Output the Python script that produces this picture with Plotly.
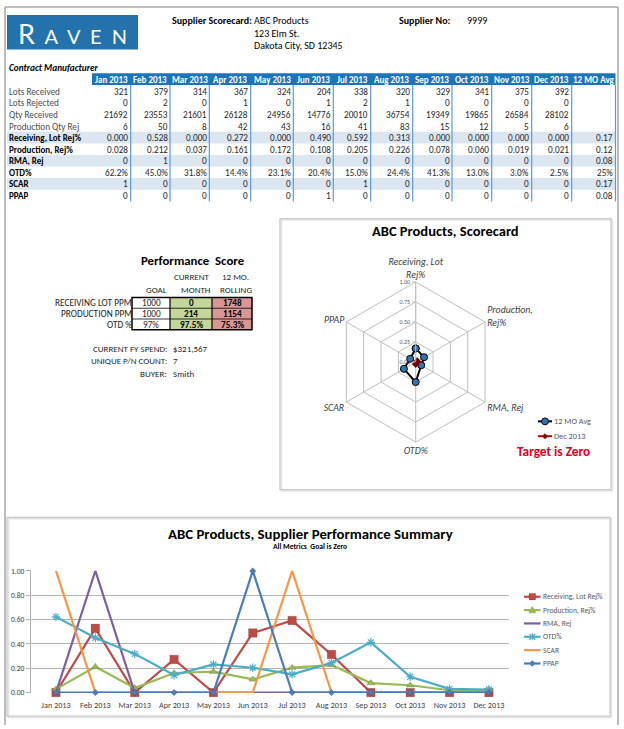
import plotly.graph_objects as go

# ---------------- data ----------------
months = ["Jan 2013", "Feb 2013", "Mar 2013", "Apr 2013", "May 2013", "Jun 2013",
          "Jul 2013", "Aug 2013", "Sep 2013", "Oct 2013", "Nov 2013", "Dec 2013"]
avg_header = "12 MO Avg"

lots_received = [321, 379, 314, 367, 324, 204, 338, 320, 329, 341, 375, 392]
lots_rejected = [0, 2, 0, 1, 0, 1, 2, 1, 0, 0, 0, 0]
qty_received = [21692, 23553, 21601, 26128, 24956, 14776, 20010, 36754, 19349, 19865, 26584, 28102]
production_qty_rej = [6, 50, 8, 42, 43, 16, 41, 83, 15, 12, 5, 6]
receiving_lot_rej = [0.000, 0.528, 0.000, 0.272, 0.000, 0.490, 0.592, 0.313, 0.000, 0.000, 0.000, 0.000]
production_rej = [0.028, 0.212, 0.037, 0.161, 0.172, 0.108, 0.205, 0.226, 0.078, 0.060, 0.019, 0.021]
rma_rej = [0, 1, 0, 0, 0, 0, 0, 0, 0, 0, 0, 0]
otd_pct = [62.2, 45.0, 31.8, 14.4, 23.1, 20.4, 15.0, 24.4, 41.3, 13.0, 3.0, 2.5]
scar = [1, 0, 0, 0, 0, 0, 1, 0, 0, 0, 0, 0]
ppap = [0, 0, 0, 0, 0, 1, 0, 0, 0, 0, 0, 0]

metric_names = ["Receiving, Lot Rej%", "Production, Rej%", "RMA, Rej", "OTD%", "SCAR", "PPAP"]
avg_12mo = [0.17, 0.12, 0.08, 0.25, 0.17, 0.08]
dec_2013 = [0.000, 0.021, 0, 0.025, 0, 0]
radar_labels = ["Receiving, Lot<br>Rej%", "Production,<br>Rej%", "RMA, Rej", "OTD%", "SCAR", "PPAP"]
radar_ticks = [0, 0.25, 0.5, 0.75, 1.0]
line_ticks = [0, 0.2, 0.4, 0.6, 0.8, 1.0]

perf_rows = ["RECEIVING LOT PPM", "PRODUCTION PPM", "OTD %"]
perf_goal = ["1000", "1000", "97%"]
perf_current = ["0", "214", "97.5%"]
perf_rolling = ["1748", "1154", "75.3%"]

info_labels = ["CURRENT FY SPEND:", "UNIQUE P/N COUNT:", "BUYER:"]
info_values = ["$321,567", "7", "Smith"]

supplier_name = "ABC Products"
supplier_addr = ["123 Elm St.", "Dakota City, SD 12345"]
supplier_no = "9999"

# ---------------- helpers ----------------
W, H = 624, 729
FONT = "Carlito, Calibri, Lato, sans-serif"


def X(px):
    return px / W


def Y(py):
    return 1 - py / H


annotations = []
shapes = []


def txt(x, y, s, size=8, color="#262626", xanchor="left", yanchor="middle", family=FONT):
    annotations.append(dict(x=X(x), y=Y(y), xref="paper", yref="paper", text=s,
                            showarrow=False, xanchor=xanchor, yanchor=yanchor,
                            borderpad=0,
                            font=dict(family=family, size=size, color=color)))


def rect(x0, y0, x1, y1, fill=None, line=None, width=1):
    d = dict(type="rect", xref="paper", yref="paper", x0=X(x0), x1=X(x1), y0=Y(y1), y1=Y(y0),
             line=dict(width=width if line else 0, color=line or "rgba(0,0,0,0)"))
    if fill:
        d["fillcolor"] = fill
    shapes.append(d)


def seg(x0, y0, x1, y1, color, width=1):
    shapes.append(dict(type="line", xref="paper", yref="paper", x0=X(x0), x1=X(x1),
                       y0=Y(y0), y1=Y(y1), line=dict(color=color, width=width)))


def poly(points, fill, line=None, width=0.8):
    p = "M " + " L ".join(f"{X(a):.5f},{Y(b):.5f}" for a, b in points) + " Z"
    shapes.append(dict(type="path", xref="paper", yref="paper", path=p, fillcolor=fill,
                       line=dict(color=line or fill, width=width)))


# ---------------- page frame + header ----------------
seg(5, 3, 618, 3, "#A6A6A6", 1.5)
seg(5, 3, 5, 729, "#A6A6A6", 1.5)
seg(618, 3, 618, 729, "#A6A6A6", 1.5)

rect(7, 11, 138, 46, fill="#2372AB")
txt(17, 30, "R<span style='font-size:20px'>&nbsp;&nbsp;A&nbsp;&nbsp;V&nbsp;&nbsp;E&nbsp;&nbsp;N</span>",
    size=27, color="white", family="Lato, sans-serif")

txt(171, 17, "<b>Supplier Scorecard:</b>", size=10, color="#000000")
txt(253, 17, supplier_name, size=10, color="#000000")
for i, line in enumerate(supplier_addr):
    txt(253, 29.5 + 12.5 * i, line, size=10, color="#000000")
txt(398, 17, "<b>Supplier No:</b>", size=10, color="#000000")
txt(466, 17, supplier_no, size=10, color="#000000")

# ---------------- top table ----------------
txt(8, 64, "<b><i>Contract Manufacturer</i></b>", size=9.3, color="#000000")
col_bounds = [92, 130.7, 170, 209.3, 250.7, 293.3, 333.3, 370.7, 412.7, 452, 491.7, 531.7, 571.7, 615.5]
header_top, header_bot = 70, 82
row0, row_h = 88.3, 11.7

avg_text = ["", "", "", ""] + [f"{v:.2f}" for v in avg_12mo[:3]] + [f"{avg_12mo[3]*100:.0f}%"] + \
           [f"{v:.2f}" for v in avg_12mo[4:]]
table_rows = [
    ("Lots Received", [f"{v:d}" for v in lots_received]),
    ("Lots Rejected", [f"{v:d}" for v in lots_rejected]),
    ("Qty Received", [f"{v:d}" for v in qty_received]),
    ("Production Qty Rej", [f"{v:d}" for v in production_qty_rej]),
    (metric_names[0], [f"{v:.3f}" for v in receiving_lot_rej]),
    (metric_names[1], [f"{v:.3f}" for v in production_rej]),
    (metric_names[2], [f"{v:d}" for v in rma_rej]),
    (metric_names[3], [f"{v:.1f}%" for v in otd_pct]),
    (metric_names[4], [f"{v:d}" for v in scar]),
    (metric_names[5], [f"{v:d}" for v in ppap]),
]

for r in (4, 6, 8):
    yc = row0 + r * row_h
    rect(7, yc - row_h / 2, 615.5, yc + row_h / 2, fill="#DCE6F1")
rect(col_bounds[0], header_top, col_bounds[-1], header_bot, fill="#1B75BC")
for xb in col_bounds[1:]:
    seg(xb, header_bot, xb, row0 + 9 * row_h + 6, "#5B9BD5", 1.2)

for j, h in enumerate(months + [avg_header]):
    xc = (col_bounds[j] + col_bounds[j + 1]) / 2
    txt(xc, (header_top + header_bot) / 2, f"<b>{h}</b>", size=9, color="white", xanchor="center")

for r, (label, vals) in enumerate(table_rows):
    yc = row0 + r * row_h
    if r < 4:
        txt(8, yc, label, size=9.2, color="#4D4D4D")
    else:
        txt(8, yc, f"<b>{label}</b>", size=9, color="#000000")
    for j, v in enumerate(vals + [avg_text[r]]):
        if v == "":
            continue
        txt(col_bounds[j + 1] - 1.5, yc, v, size=9.2, color="#262626", xanchor="right")

# ---------------- performance score ----------------
txt(193, 259.5, "<b>Performance  Score</b>", size=12.8, color="#000000", xanchor="center")
pc = [132, 170, 212, 252]
pr = [296.7, 307.6, 318.5, 329.3]
txt(192, 275.5, "CURRENT", size=9, xanchor="center")
txt(235, 275.5, "12 MO.", size=9, xanchor="center")
txt(156, 288.3, "GOAL", size=9, xanchor="center")
txt(195, 288.3, "MONTH", size=9, xanchor="center")
txt(236, 288.3, "ROLLING", size=9, xanchor="center")
rect(pc[1], pr[0], pc[2], pr[3], fill="#C4D79B")
rect(pc[2], pr[0], pc[3], pr[3], fill="#DA9694")
for yb in pr[1:3]:
    seg(pc[0], yb, pc[3], yb, "#000000", 0.8)
for xb in pc[1:3]:
    seg(xb, pr[0], xb, pr[3], "#000000", 1.2)
rect(pc[0], pr[0], pc[3], pr[3], line="#000000", width=1.5)
for i in range(3):
    yc = (pr[i] + pr[i + 1]) / 2
    txt(pc[0] + 0.5, yc, perf_rows[i], size=9.3, xanchor="right")
    txt((pc[0] + pc[1]) / 2, yc, perf_goal[i], size=9.2, xanchor="center")
    txt((pc[1] + pc[2]) / 2, yc, f"<b>{perf_current[i]}</b>", size=9.2, color="#000000", xanchor="center")
    txt((pc[2] + pc[3]) / 2, yc, f"<b>{perf_rolling[i]}</b>", size=9.2, color="#000000", xanchor="center")

for i, (lab, val) in enumerate(zip(info_labels, info_values)):
    yc = 348.5 + 12.3 * i
    txt(168, yc, lab, size=9, xanchor="right")
    txt(172, yc, val, size=9)

# ---------------- radar box ----------------
rect(281.5, 218.5, 612.5, 492.5, line="#E3E3E3", width=1.5)
rect(280, 217, 611, 491, line="#C8C8C8", width=1.3)
txt(445, 230, "<b>ABC Products, Scorecard</b>", size=14.5, color="#000000", xanchor="center")

seg(538, 422, 552, 422, "#000000", 2)
shapes.append(dict(type="circle", xref="paper", yref="paper", x0=X(541.5), x1=X(548.5),
                   y0=Y(425.5), y1=Y(418.5), fillcolor="#2E75B6", line=dict(color="#000000", width=1)))
txt(553, 422, "12 MO Avg", size=8.3, color="#595959")
seg(538, 437, 552, 437, "#C00000", 2)
poly([(545, 434.5), (547.5, 437), (545, 439.5), (542.5, 437)], "#7B0000")
txt(553, 437, "Dec 2013", size=8.3, color="#595959")
txt(553.5, 452.5, "<b>Target is Zero</b>", size=13.3, color="#E3001B", xanchor="center")

# ---------------- line chart box ----------------
rect(8.5, 520.5, 611.5, 721.5, line="#E3E3E3", width=1.5)
rect(7, 519, 610, 720, line="#C8C8C8", width=1.3)
txt(310, 535.5, "<b>ABC Products, Supplier Performance Summary</b>", size=14.8, color="#000000", xanchor="center")
txt(310, 548.5, "<b>All Metrics  Goal is Zero</b>", size=7.6, color="#000000", xanchor="center")

series = [
    (metric_names[0], receiving_lot_rej, "#BE4B48", "square", 8.5),
    (metric_names[1], production_rej, "#98B954", "triangle-up", 7),
    (metric_names[2], rma_rej, "#7D60A0", None, 0),
    (metric_names[3], [v / 100 for v in otd_pct], "#4BACC6", "asterisk-open", 7),
    (metric_names[4], scar, "#F79646", None, 0),
    (metric_names[5], ppap, "#4A7EBB", "diamond", 5),
]

fig = go.Figure()
for name, vals, color, sym, size in series:
    if sym:
        mk = dict(symbol=sym, size=size, color=color,
                  line=dict(color=color if sym.endswith("open") else "rgba(0,0,0,0.25)",
                            width=1.2 if sym.endswith("open") else 0.6))
        mode = "lines+markers"
    else:
        mk = None
        mode = "lines"
    fig.add_trace(go.Scatter(x=months, y=vals, name=name, mode=mode, line=dict(color=color, width=2.2),
                             marker=mk, cliponaxis=False, xaxis="x", yaxis="y"))

for i, (name, vals, color, sym, size) in enumerate(series):
    yc = 599.3 + 13.5 * i
    seg(524, yc, 540.5, yc, color, 2.2)
    cx = 532.3
    if sym == "square":
        rect(cx - 3.3, yc - 3.3, cx + 3.3, yc + 3.3, fill=color, line="rgba(0,0,0,0.25)", width=0.6)
    elif sym == "triangle-up":
        poly([(cx, yc - 3.5), (cx + 3.5, yc + 2.8), (cx - 3.5, yc + 2.8)], color)
    elif sym == "asterisk-open":
        seg(cx - 3, yc - 3, cx + 3, yc + 3, color, 1.2)
        seg(cx - 3, yc + 3, cx + 3, yc - 3, color, 1.2)
        seg(cx, yc - 3.5, cx, yc + 3.5, color, 1.2)
    elif sym == "diamond":
        poly([(cx, yc - 2.8), (cx + 2.8, yc), (cx, yc + 2.8), (cx - 2.8, yc)], color)
    txt(541.5, yc, name, size=7.6, color="#595959")

fig.add_trace(go.Scatterpolar(r=avg_12mo + [avg_12mo[0]], theta=radar_labels + [radar_labels[0]],
                              name="12 MO Avg", mode="lines+markers", subplot="polar",
                              line=dict(color="#000000", width=2),
                              marker=dict(size=7, color="#2E75B6", line=dict(color="#000000", width=1))))
fig.add_trace(go.Scatterpolar(r=dec_2013 + [dec_2013[0]], theta=radar_labels + [radar_labels[0]],
                              name="Dec 2013", mode="lines+markers", subplot="polar",
                              line=dict(color="#C00000", width=2),
                              marker=dict(size=6, symbol="diamond", color="#7B0000")))

fig.update_layout(
    width=W, height=H, autosize=False,
    margin=dict(l=0, r=0, t=0, b=0, pad=0),
    paper_bgcolor="white", plot_bgcolor="white",
    showlegend=False,
    font=dict(family=FONT, color="#404040"),
    xaxis=dict(domain=[X(31), X(509)], range=[-0.635, 11.51], type="category",
               categoryorder="array", categoryarray=months,
               tickfont=dict(size=8.2, color="#404040"), showgrid=False, zeroline=False,
               showline=False, ticks="", anchor="y", fixedrange=True, ticklabelstandoff=6),
    yaxis=dict(domain=[Y(696.7), Y(572.7)], range=[-0.004, 1.004], tickvals=line_ticks,
               ticktext=[f"{v:.2f}" for v in line_ticks], showgrid=True, gridcolor="#B3B3B3",
               gridwidth=1.3, showline=True, linecolor="#B3B3B3", linewidth=1.3, ticks="outside",
               ticklen=4, tickcolor="#B3B3B3", zeroline=False,
               tickfont=dict(size=7.5, color="#404040"), anchor="x", fixedrange=True),
    polar=dict(
        domain=dict(x=[X(334.7), X(496.7)], y=[Y(443), Y(281)]),
        gridshape="linear", bgcolor="white",
        radialaxis=dict(range=[0, 1], tickvals=radar_ticks, ticktext=[f"{v:.2f}" for v in radar_ticks],
                        angle=90, tickangle=90, side="counterclockwise",
                        tickfont=dict(size=6, color="#595959"), showline=True, linecolor="#BFBFBF",
                        gridcolor="#BFBFBF", ticks="outside", ticklen=3, tickcolor="#BFBFBF"),
        angularaxis=dict(rotation=90, direction="clockwise",
                         tickfont=dict(size=9.8, color="#404040", style="italic"),
                         linecolor="#BFBFBF", gridcolor="#BFBFBF", showline=True, ticks=""),
    ),
    annotations=annotations,
    shapes=shapes,
)

fig.write_html("out.html", config={"displayModeBar": False},
               post_script="document.body.style.margin='0px';")
